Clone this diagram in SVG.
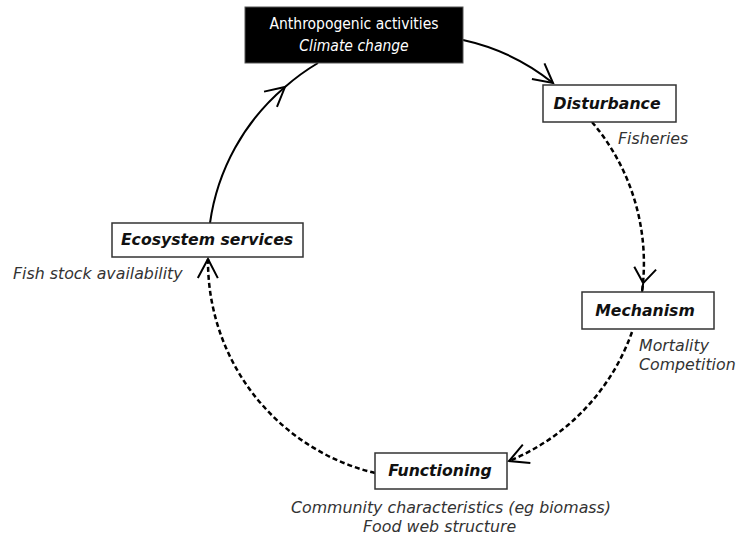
<svg xmlns="http://www.w3.org/2000/svg" width="736" height="540" viewBox="0 0 736 540">
<style>
.box{fill:#fff;stroke:#333;stroke-width:1.5}
.lbl{font-family:"DejaVu Sans",Verdana,sans-serif;font-size:15.7px;font-weight:bold;font-style:italic;fill:#111;text-anchor:middle}
.note{font-family:"DejaVu Sans",Verdana,sans-serif;font-size:15.8px;font-style:italic;fill:#333}
.top{font-family:"DejaVu Sans Condensed","DejaVu Sans",sans-serif;font-stretch:condensed;font-size:15.5px;fill:#fff;text-anchor:middle}
.solid{fill:none;stroke:#000;stroke-width:2}
.dash{fill:none;stroke:#000;stroke-width:2.5;stroke-dasharray:5 3}
</style>
<defs>
<marker id="arr" markerUnits="userSpaceOnUse" orient="auto" overflow="visible" refX="0" refY="0" markerWidth="30" markerHeight="30">
<path d="M -19 -10 L 0 0 L -19 10" fill="none" stroke="#000" stroke-width="2"/>
</marker>
<marker id="arrY" markerUnits="userSpaceOnUse" orient="auto" overflow="visible" refX="0" refY="0" markerWidth="30" markerHeight="30">
<path d="M -24 -11 L -9 0 L -24 11 M -9 0 L 0 0" fill="none" stroke="#000" stroke-width="2"/>
</marker>
</defs>
<g id="connectors">
<path class="solid" d="M 210 223 A 218 218 0 0 1 285 87" marker-end="url(#arr)"/>
<path class="solid" d="M 285 87 A 218 218 0 0 1 318 63"/>
<path class="solid" d="M 463 40 A 218 218 0 0 1 553 83" marker-end="url(#arr)"/>
<path class="dash" d="M 592 122 A 218 218 0 0 1 642 292" marker-end="url(#arrY)"/>
<path class="dash" d="M 632 332 A 218 218 0 0 1 509 461" marker-end="url(#arr)"/>
<path class="dash" d="M 375 473 A 218 218 0 0 1 208 259" marker-end="url(#arr)"/>
</g>
<g id="anthropogenic">
<rect x="245" y="7" width="218" height="56" fill="#000" stroke="#555" stroke-width="1"/>
<text class="top" x="354" y="29">Anthropogenic activities</text>
<text class="top" x="354" y="51" font-style="italic">Climate change</text>
</g>
<g id="disturbance">
<rect class="box" x="543" y="85" width="133" height="37"/>
<text class="lbl" x="607" y="109">Disturbance</text>
<text class="note" x="618" y="144">Fisheries</text>
</g>
<g id="mechanism">
<rect class="box" x="582" y="292" width="132" height="37"/>
<text class="lbl" x="645" y="316">Mechanism</text>
<text class="note" x="639" y="351">Mortality</text>
<text class="note" x="639" y="370">Competition</text>
</g>
<g id="functioning">
<rect class="box" x="375" y="453" width="132" height="36"/>
<text class="lbl" x="440" y="476">Functioning</text>
<text class="note" x="291" y="513">Community characteristics (eg biomass)</text>
<text class="note" x="363" y="532">Food web structure</text>
</g>
<g id="ecosystem">
<rect class="box" x="112" y="223" width="191" height="34"/>
<text class="lbl" x="207" y="245">Ecosystem services</text>
<text class="note" x="13" y="279">Fish stock availability</text>
</g>
</svg>
